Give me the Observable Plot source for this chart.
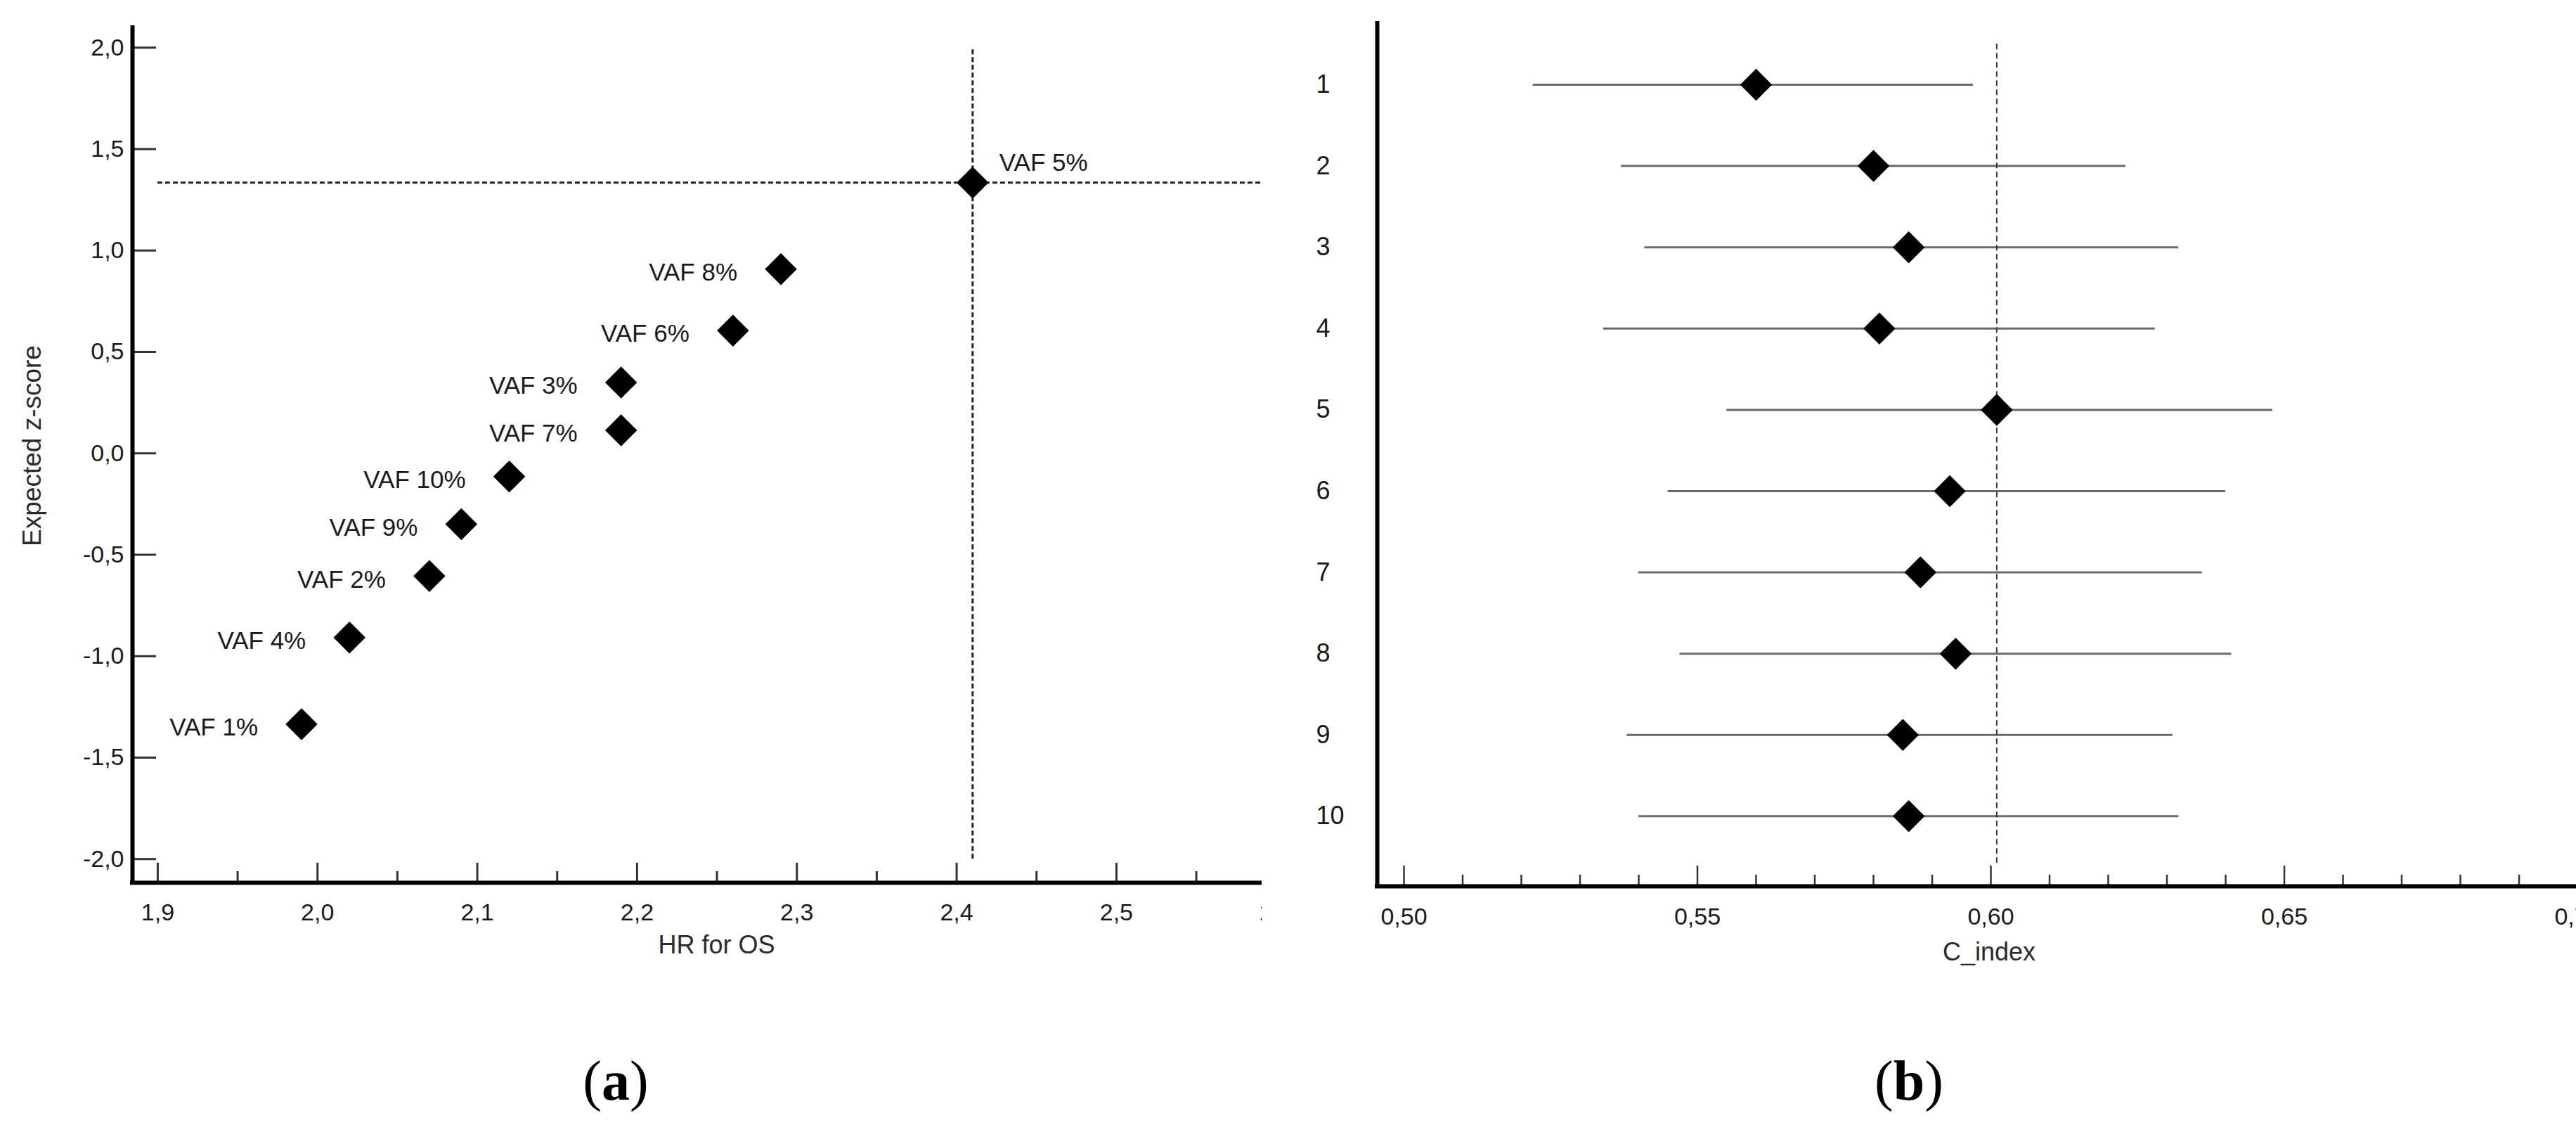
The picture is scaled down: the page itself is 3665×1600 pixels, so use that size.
<!DOCTYPE html>
<html>
<head>
<meta charset="utf-8">
<script src="https://cdn.jsdelivr.net/npm/d3@7"></script>
<script src="https://cdn.jsdelivr.net/npm/@observablehq/plot@0.6"></script>
<style>
html, body { margin: 0; padding: 0; background: #fff; overflow: hidden; }
#page { position: relative; width: 3665px; height: 1600px; overflow: hidden; background: #fff; }
#pa { position: absolute; left: 0; top: 0; width: 1795px; height: 1600px; overflow: hidden; }
#pb { position: absolute; left: 1800px; top: 0; width: 1865px; height: 1600px; overflow: hidden; }
.cap { position: absolute; top: 1498px; font-family: "Liberation Serif", "DejaVu Serif", serif; font-size: 80px; line-height: 78px; color: #000; transform: translateX(-50%); white-space: nowrap; }
</style>
</head>
<body>
<div id="page">
  <div id="pa"></div>
  <div id="pb"></div>
  <div class="cap" style="left:876px">(<b>a</b>)</div>
  <div class="cap" style="left:2716px">(<b>b</b>)</div>
</div>
<script>
// ---------- Panel (a) data ----------
const vafLabels = ["VAF 1%", "VAF 2%", "VAF 3%", "VAF 4%", "VAF 5%", "VAF 6%", "VAF 7%", "VAF 8%", "VAF 9%", "VAF 10%"];
const hrValues  = [1.99, 2.07, 2.19, 2.02, 2.41, 2.26, 2.19, 2.29, 2.09, 2.12];
const zValues   = [-1.335, -0.605, 0.349, -0.908, 1.335, 0.605, 0.114, 0.908, -0.349, -0.114];
const hrTicks   = [1.9, 2.0, 2.1, 2.2, 2.3, 2.4, 2.5, 2.6];
const hrMinor   = [1.95, 2.05, 2.15, 2.25, 2.35, 2.45, 2.55];
const zTicks    = [-2.0, -1.5, -1.0, -0.5, 0.0, 0.5, 1.0, 1.5, 2.0];
const selectedVaf = "VAF 5%";
const refHR = 2.41;
const refZ = 1.335;

// ---------- Panel (b) data ----------
const runs    = [1, 2, 3, 4, 5, 6, 7, 8, 9, 10];
const cIndex  = [0.560, 0.580, 0.586, 0.581, 0.601, 0.593, 0.588, 0.594, 0.585, 0.586];
const ciLow   = [0.522, 0.537, 0.541, 0.534, 0.555, 0.545, 0.540, 0.547, 0.538, 0.540];
const ciHigh  = [0.597, 0.623, 0.632, 0.628, 0.648, 0.640, 0.636, 0.641, 0.631, 0.632];
const cTicks  = [0.50, 0.55, 0.60, 0.65, 0.70];
const cMinor  = [0.51, 0.52, 0.53, 0.54, 0.56, 0.57, 0.58, 0.59, 0.61, 0.62, 0.63, 0.64, 0.66, 0.67, 0.68, 0.69];
const refC = 0.601;
const refCRunExtent = [0.5, 10.6];

const comma = (d, n) => d.toFixed(n).replace(".", ",");
const FONT = "'Liberation Sans', Arial, Helvetica, sans-serif";

// ---------- Panel (a) ----------
const vafData = vafLabels.map((label, i) => ({label, hr: hrValues[i], z: zValues[i]}));
const WA = 1850, HA = 1600, mLA = 188, mRA = 0, mTA = 36, mBA = 345;
const fWA = WA - mLA - mRA, fHA = HA - mTA - mBA;
const xDomA = [1.8842, 2.6153];
const yDomA = [-2.117, 2.1085];

const chartA = Plot.plot({
  width: WA, height: HA,
  marginLeft: mLA, marginRight: mRA, marginTop: mTA, marginBottom: mBA,
  style: {fontFamily: FONT, background: "white", maxWidth: "none", color: "#1a1a1a"},
  x: {domain: xDomA},
  y: {domain: yDomA},
  marks: [
    Plot.ruleY([refZ], {y: d => d, x1: () => hrTicks[0], x2: () => xDomA[1], stroke: "#222", strokeWidth: 3, strokeDasharray: "7,4"}),
    Plot.ruleX([refHR], {x: d => d, y1: () => zTicks[0], y2: () => zTicks[zTicks.length - 1], stroke: "#222", strokeWidth: 3, strokeDasharray: "7,4"}),
    Plot.tickX(hrTicks, {x: d => d, insetTop: fHA - 28, stroke: "#333", strokeWidth: 3}),
    Plot.tickX(hrMinor, {x: d => d, insetTop: fHA - 16, stroke: "#333", strokeWidth: 3}),
    Plot.tickY(zTicks, {y: d => d, insetRight: fWA - 34, stroke: "#333", strokeWidth: 3}),
    Plot.ruleX([xDomA[0]], {x: d => d, stroke: "black", strokeWidth: 6}),
    Plot.ruleY([yDomA[0]], {y: d => d, stroke: "black", strokeWidth: 6, strokeLinecap: "square"}),
    Plot.axisX({ticks: hrTicks, tickFormat: d => comma(d, 1), tickSize: 0, tickPadding: 29, fontSize: 34, label: null}),
    Plot.axisY({ticks: zTicks, tickFormat: d => comma(d, 1), tickSize: 0, tickPadding: 12, fontSize: 34, label: null}),
    Plot.text(["HR for OS"], {text: d => d, frameAnchor: "bottom", dy: 100, fontSize: 36, fill: "#2a2a2a"}),
    Plot.text(["Expected z-score"], {text: d => d, frameAnchor: "left", textAnchor: "middle", dx: -142, dy: -12, rotate: -90, fontSize: 37, fill: "#2a2a2a"}),
    Plot.dot(vafData, {x: "hr", y: "z", symbol: "diamond2", r: 20.5, fill: "black", stroke: null}),
    Plot.text(vafData.filter(d => d.label !== selectedVaf), {x: "hr", y: "z", text: "label", textAnchor: "end", dx: -62, dy: 5, fontSize: 35, fill: "#1a1a1a"}),
    Plot.text(vafData.filter(d => d.label === selectedVaf), {x: "hr", y: "z", text: "label", textAnchor: "start", dx: 38, dy: -28, fontSize: 35, fill: "#1a1a1a"})
  ]
});
document.getElementById("pa").appendChild(chartA);

// ---------- Panel (b) ----------
const bData = runs.map((run, i) => ({run, c: cIndex[i], lo: ciLow[i], hi: ciHigh[i]}));
const WB = 1900, HB = 1600, mLB = 159, mRB = 0, mTB = 30, mBB = 340;
const fWB = WB - mLB - mRB, fHB = HB - mTB - mBB;
const xDomB = [0.49545, 0.70395];
const yDomB = [0.2215, 10.862];

const chartB = Plot.plot({
  width: WB, height: HB,
  marginLeft: mLB, marginRight: mRB, marginTop: mTB, marginBottom: mBB,
  style: {fontFamily: FONT, background: "white", maxWidth: "none", color: "#1a1a1a"},
  x: {domain: xDomB},
  y: {domain: yDomB, reverse: true},
  marks: [
    Plot.ruleY(bData, {y: "run", x1: "lo", x2: "hi", stroke: "#6a6a6a", strokeWidth: 3}),
    Plot.ruleX([refC], {x: d => d, y1: () => refCRunExtent[0], y2: () => refCRunExtent[1], stroke: "#3a3a3a", strokeWidth: 2, strokeDasharray: "8,5"}),
    Plot.tickX(cTicks, {x: d => d, insetTop: fHB - 29, stroke: "#333", strokeWidth: 2.5}),
    Plot.tickX(cMinor, {x: d => d, insetTop: fHB - 16, stroke: "#333", strokeWidth: 2.5}),
    Plot.ruleX([xDomB[0]], {x: d => d, stroke: "black", strokeWidth: 6}),
    Plot.ruleY([yDomB[1]], {y: d => d, stroke: "black", strokeWidth: 6, strokeLinecap: "square"}),
    Plot.axisX({ticks: cTicks, tickFormat: d => comma(d, 2), tickSize: 0, tickPadding: 30, fontSize: 34, label: null}),
    Plot.axisY({ticks: runs, tickFormat: d => String(d), tickSize: 0, tickPadding: 87, textAnchor: "start", fontSize: 36, label: null}),
    Plot.text(["C_index"], {text: d => d, frameAnchor: "bottom", dy: 105, fontSize: 36, fill: "#2a2a2a"}),
    Plot.dot(bData, {x: "c", y: "run", symbol: "diamond2", r: 20.5, fill: "black", stroke: null})
  ]
});
document.getElementById("pb").appendChild(chartB);
</script>
</body>
</html>
